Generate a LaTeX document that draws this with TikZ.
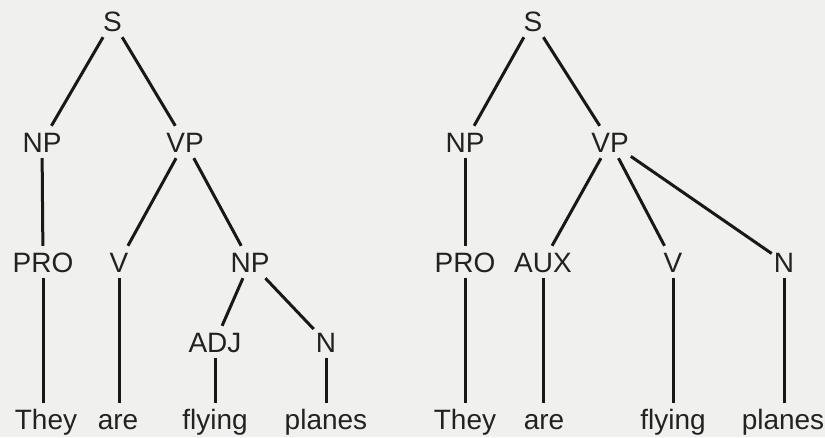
\documentclass[tikz,border=0pt]{standalone}
\usepackage{fontspec}
\setmainfont{Liberation Sans}
\definecolor{bg}{RGB}{240,240,238}
\definecolor{ink}{RGB}{34,34,34}
\definecolor{edge}{RGB}{24,24,24}
\begin{document}
\begin{tikzpicture}[x=1pt,y=-1pt,
  lab/.style={anchor=base, text=ink, font=\fontsize{28}{32}\selectfont,
    text height=20pt, text depth=0pt, inner xsep=2pt, inner ysep=6pt},
  br/.style={draw=edge, line width=3pt}]
\fill[bg] (0,0) rectangle (825,437);
\useasboundingbox (0,0) rectangle (825,437);
% left tree
\node[lab] (S1) at (112.5,31) {S};
\node[lab] (NPa) at (42,152) {NP};
\node[lab] (VPa) at (185,152) {VP};
\node[lab] (PROa) at (43,272) {PRO};
\node[lab] (Va) at (119,272) {V};
\node[lab] (NPb) at (250,272) {NP};
\node[lab] (ADJ) at (215,352) {ADJ};
\node[lab] (Na) at (326,352) {N};
\node[lab] (Theya) at (46,429) {They};
\node[lab] (area) at (118,429) {are};
\node[lab] (flyinga) at (215,429) {flying};
\node[lab] (planesa) at (326,429) {planes};
\draw[br] (S1) -- (NPa);
\draw[br] (S1) -- (VPa);
\draw[br] (NPa) -- (PROa);
\draw[br] (VPa) -- (Va);
\draw[br] (VPa) -- (NPb);
\draw[br] (NPb) -- (ADJ);
\draw[br] (NPb) -- (Na);
\draw[br] (PROa.south) -- (PROa.south |- Theya.north);
\draw[br] (Va) -- (Va |- area.north);
\draw[br] (ADJ) -- (ADJ |- flyinga.north);
\draw[br] (Na) -- (Na |- planesa.north);
% right tree
\node[lab] (S2) at (533,31) {S};
\node[lab] (NPc) at (465,152) {NP};
\node[lab] (VPc) at (610,152) {VP};
\node[lab] (PROc) at (465,272) {PRO};
\node[lab] (AUX) at (543,272) {AUX};
\node[lab] (Vc) at (673,272) {V};
\node[lab] (Nc) at (784,272) {N};
\node[lab] (Theyc) at (465,429) {They};
\node[lab] (arec) at (544,429) {are};
\node[lab] (flyingc) at (673,429) {flying};
\node[lab] (planesc) at (783,429) {planes};
\draw[br] (S2) -- (NPc);
\draw[br] (S2) -- (VPc);
\draw[br] (NPc) -- (PROc);
\draw[br] (VPc) -- (AUX);
\draw[br] (VPc) -- (Vc);
\draw[br] (VPc) -- (Nc);
\draw[br] (PROc) -- (PROc |- Theyc.north);
\draw[br] (AUX) -- (AUX |- arec.north);
\draw[br] (Vc) -- (Vc |- flyingc.north);
\draw[br] (Nc) -- (Nc |- planesc.north);
\end{tikzpicture}
\end{document}
